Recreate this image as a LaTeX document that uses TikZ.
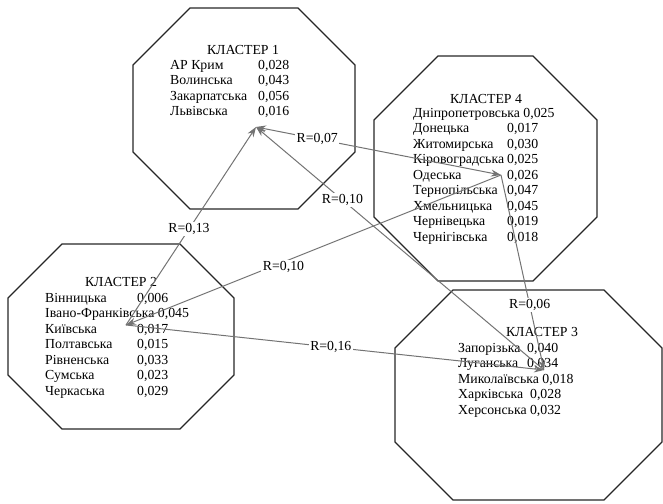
\documentclass[tikz,border=0pt]{standalone}
\usepackage{fontspec}
\setmainfont{Liberation Serif}
\usetikzlibrary{arrows.meta}

% octagon from its outer box and the size of the cut corners
\newcommand{\octagon}[5]{%
  \draw[frame] (#1+#5,#2) -- (#3-#5,#2) -- (#3,#2+#5) -- (#3,#4-#5)
    -- (#3-#5,#4) -- (#1+#5,#4) -- (#1,#4-#5) -- (#1,#2+#5) -- cycle;}
\newcommand{\krow}[2]{#1 & #2\\}
\newcommand{\klong}[1]{\multicolumn{2}{@{}l@{}}{#1}\\}

\begin{document}
\begin{tikzpicture}[x=1pt,y=-1pt,>={Stealth[length=10pt,width=7pt]},
		every node/.style={font=\fontsize{13.8}{15.5}\selectfont},
		frame/.style={draw=black!85,line width=1.1pt},
		link/.style={draw=black!55,line width=1pt},
		rval/.style={fill=white,inner sep=1.5pt},
		ktitle/.style={anchor=base},
		klist/.style={anchor=base west,inner sep=0pt}]
		\useasboundingbox (0,0) rectangle (663,503);
		
		\octagon{133}{8}{355}{209}{57}
		\octagon{374}{56}{597}{281}{64}
		\octagon{8}{244}{234}{429}{54}
		\octagon{395}{290}{662}{500}{58}
		
		\node[ktitle] (t1) at (243,55) 	{КЛАСТЕР 1};
		\node[klist] (l1) at (170,69) {\begin{tabular}[t]{@{}p{88pt}@{}l@{}}
			\krow{АР Крим}{0,028}
			\krow{Волинська}{0,043}
			\krow{Закарпатська}{0,056}
			\krow{Львівська}{0,016}
		\end{tabular}};
		
		\node[ktitle] (t2) at (121,286) 	{КЛАСТЕР 2};
		\node[klist] (l2) at (45,302) {\begin{tabular}[t]{@{}p{92pt}@{}l@{}}
			\krow{Вінницька}{0,006}
			\klong{Івано-Франківська 0,045}
			\krow{Київська}{0,017}
			\krow{Полтавська}{0,015}
			\krow{Рівненська}{0,033}
			\krow{Сумська}{0,023}
			\krow{Черкаська}{0,029}
		\end{tabular}};
		
		\node[ktitle] (t3) at (542,336) 	{КЛАСТЕР 3};
		\node[klist] (l3) at (458,352) {\begin{tabular}[t]{@{}p{69pt}@{}l@{}}
			\krow{Запорізька}{0,040}
			\krow{Луганська}{0,034}
			\klong{Миколаївська 0,018}
			\klong{Харківська\ \ 0,028}
			\klong{Херсонська 0,032}
		\end{tabular}};
		
		\node[ktitle] (t4) at (486,103) 	{КЛАСТЕР 4};
		\node[klist] (l4) at (413,117) {\begin{tabular}[t]{@{}p{94pt}@{}l@{}}
			\klong{Дніпропетровська 0,025}
			\krow{Донецька}{0,017}
			\krow{Житомирська}{0,030}
			\krow{Кіровоградська}{0,025}
			\krow{Одеська}{0,026}
			\krow{Тернопільська}{0,047}
			\krow{Хмельницька}{0,045}
			\krow{Чернівецька}{0,019}
			\krow{Чернігівська}{0,018}
		\end{tabular}};
		
		\coordinate (k1) at (256,127);
		\coordinate (k2) at (126,325);
		\coordinate (k3) at (544,370);
		\coordinate (k4) at (501,175);
		
		\path 	(k2)	edge [link,->]	node [rval,pos=0.485]	{R=0,13} (k1)
				(k1)	edge [link,<->]	node [rval,pos=0.25]	{R=0,07} (k4)
				(k3)	edge [link,->]	node [rval,pos=0.7]		{R=0,10} (k1)
				(k4)	edge [link,->]	node [rval,pos=0.58,yshift=-5pt] {R=0,10} (k2)
					edge [link,->]	node [rval,pos=0.667]	{R=0,06} (k3)
				(k2)	edge [link,->]	node [rval,pos=0.49]	{R=0,16} (k3);
\end{tikzpicture}
\end{document}
